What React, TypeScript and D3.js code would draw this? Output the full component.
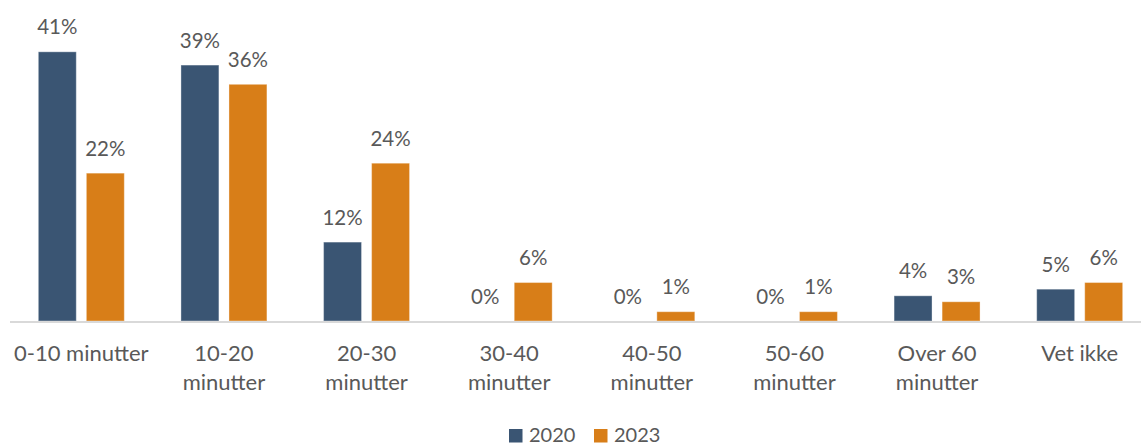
import React from "react";
import * as d3 from "d3";

const categories = [
  "0-10 minutter",
  "10-20 minutter",
  "20-30 minutter",
  "30-40 minutter",
  "40-50 minutter",
  "50-60 minutter",
  "Over 60 minutter",
  "Vet ikke",
];
const seriesNames = ["2020", "2023"];
const values2020 = [40.6, 38.6, 11.9, 0, 0, 0, 3.8, 4.8];
const values2023 = [22.3, 35.7, 23.8, 5.8, 1.4, 1.4, 2.9, 5.8];

const W = 1141;
const H = 445;
const COLORS = ["#3A5573", "#D87E18"];
const TEXT = "#595959";
const FONT = "Lato, 'Open Sans', sans-serif";

function wrap(label: string): string[] {
  if (label.length <= 13) return [label];
  const i = label.lastIndexOf(" ");
  return [label.slice(0, i), label.slice(i + 1)];
}

export default function App() {
  const x = d3.scaleBand<string>().domain(categories).range([10, 1151]).paddingInner(0).paddingOuter(0);
  const xs = d3
    .scaleBand<string>()
    .domain(seriesNames)
    .range([0, x.bandwidth()])
    .paddingInner(0.21)
    .paddingOuter(0.59);
  const y = d3.scaleLinear().domain([0, 45]).range([321, 321 - 45 * 6.63]);
  const series = [values2020, values2023];

  return (
    <svg
      width={W}
      height={H}
      style={{ position: "absolute", left: 0, top: 0, background: "#fff" }}
      fontFamily={FONT}
    >
      <rect x={0} y={0} width={W} height={H} fill="#fff" />
      {series.map((vals, si) =>
        vals.map((v, ci) => {
          const bx = (x(categories[ci]) ?? 0) + (xs(seriesNames[si]) ?? 0);
          const bw = xs.bandwidth();
          const top = y(v);
          return (
            <g key={`${si}-${ci}`}>
              {v > 0 && (
                <rect
                  x={bx}
                  y={top}
                  width={bw}
                  height={y(0) - top}
                  fill={COLORS[si]}
                  stroke="#ffffff"
                  strokeOpacity={0.35}
                  strokeWidth={1}
                />
              )}
              <text
                x={bx + bw / 2}
                y={top - 17.5}
                textAnchor="middle"
                fontSize={20.5}
                fill={TEXT}
              >
                {`${Math.round(v)}%`}
              </text>
            </g>
          );
        })
      )}
      <line x1={10} x2={1151} y1={322} y2={322} stroke="#D9D9D9" strokeWidth={2} />
      {categories.map((c) => {
        const cx = (x(c) ?? 0) + x.bandwidth() / 2;
        return (
          <text key={c} x={cx} y={361} textAnchor="middle" fontSize={22} fill={TEXT}>
            {wrap(c).map((ln, i) => (
              <tspan key={i} x={cx} dy={i === 0 ? 0 : 29.3}>
                {ln}
              </tspan>
            ))}
          </text>
        );
      })}
      {seriesNames.map((s, i) => {
        const lx = [509, 594][i];
        return (
          <g key={s}>
            <rect x={lx} y={429} width={13.5} height={13.5} fill={COLORS[i]} />
            <text x={lx + 20} y={441.5} fontSize={20} fill={TEXT}>
              {s}
            </text>
          </g>
        );
      })}
    </svg>
  );
}
